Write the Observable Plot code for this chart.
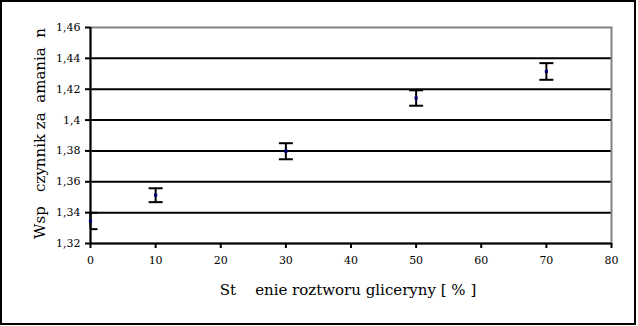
<!DOCTYPE html>
<html>
<head>
<meta charset="utf-8">
<script src="https://cdn.jsdelivr.net/npm/d3@7"></script>
<script src="https://cdn.jsdelivr.net/npm/@observablehq/plot@0.6"></script>
<style>
  html, body { margin: 0; padding: 0; background: #fff; }
  #wrap { position: relative; width: 638px; height: 326px; overflow: hidden; }
  #border { position: absolute; left: 0; top: 0; width: 632px; height: 321px; border: 2px solid #000; pointer-events: none; }
</style>
</head>
<body>
<div id="wrap"><div id="border"></div></div>
<script>
const conc = [0, 10, 30, 50, 70];
const nMean = [1.3346, 1.3513, 1.3798, 1.4143, 1.4315];
const nErr = [0.0053, 0.0045, 0.0052, 0.0050, 0.0054];
const xTicks = [0, 10, 20, 30, 40, 50, 60, 70, 80];
const yTicks = [1.32, 1.34, 1.36, 1.38, 1.40, 1.42, 1.44, 1.46];
const gridTicks = [1.34, 1.36, 1.38, 1.40, 1.42, 1.44];
const xTitle = "St\u00a0\u00a0\u00a0\u00a0enie roztworu gliceryny [ % ]";
const yTitle = "Wsp\u00a0\u00a0\u00a0czynnik za\u00a0\u00a0amania\u00a0\u00a0n";

const serif = "DejaVu Serif";
const data = conc.map((c, i) => ({x: c, y: nMean[i], lo: nMean[i] - nErr[i], hi: nMean[i] + nErr[i]}));
const fmt = d => d.toFixed(2).replace(/0$/, "").replace(".", ",");
const cap = {draw(ctx) { ctx.moveTo(-7, 0); ctx.lineTo(7, 0); }};

const chart = Plot.plot({
  width: 638,
  height: 326,
  marginLeft: 90,
  marginRight: 27,
  marginTop: 27,
  marginBottom: 83,
  style: {fontFamily: serif, fontSize: "11px", color: "#000", background: "transparent"},
  x: {domain: [0, 80]},
  y: {domain: [1.32, 1.46]},
  marks: [
    Plot.ruleY(gridTicks, {stroke: "#000", strokeWidth: 2}),
    Plot.frame({stroke: "#808080", strokeWidth: 2}),
    Plot.axisX({ticks: xTicks, tickSize: 5, tickPadding: 8, strokeWidth: 2, stroke: "#000", label: null, fontSize: 11, fontFamily: serif}),
    Plot.axisY({ticks: yTicks, tickSize: 5, tickPadding: 5, strokeWidth: 2, stroke: "#000", label: null, tickFormat: fmt, fontSize: 11, fontFamily: serif}),
    Plot.ruleX([0], {stroke: "#000", strokeWidth: 2}),
    Plot.ruleY([1.32], {stroke: "#000", strokeWidth: 2}),
    Plot.ruleX(data, {x: "x", y1: "lo", y2: "hi", stroke: "#000", strokeWidth: 2}),
    Plot.dot(data, {x: "x", y: "lo", symbol: cap, r: 3, stroke: "#000", strokeWidth: 2, fill: "none", clip: true}),
    Plot.dot(data, {x: "x", y: "hi", symbol: cap, r: 3, stroke: "#000", strokeWidth: 2, fill: "none", clip: true}),
    Plot.dot(data, {x: "x", y: "y", symbol: "square", r: 1.8, fill: "#000080", stroke: "none"}),
    Plot.text([xTitle], {text: d => d, frameAnchor: "bottom", textAnchor: "middle", lineAnchor: "bottom", dy: 51, dx: -3, fontSize: 15, fontFamily: serif, fill: "#000"}),
    Plot.text([yTitle], {text: d => d, frameAnchor: "left", textAnchor: "middle", lineAnchor: "bottom", rotate: -90, dx: -46, dy: -2, fontSize: 15, fontFamily: serif, fill: "#000"})
  ]
});
document.getElementById("wrap").prepend(chart);
</script>
</body>
</html>
